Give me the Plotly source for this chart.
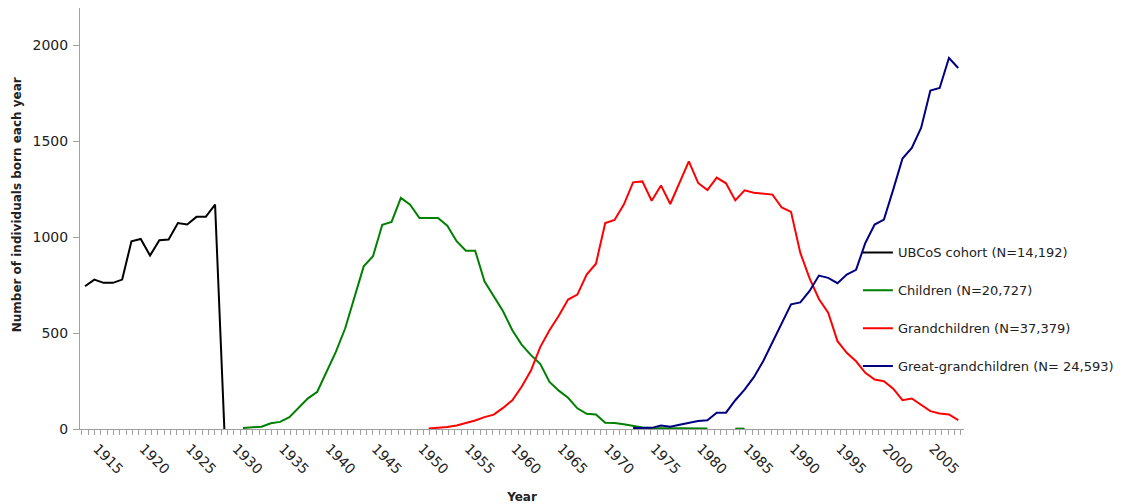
import plotly.graph_objects as go

# ---- data ----
cohort_years = list(range(1915, 1931))
cohort_vals = [744, 779, 762, 762, 779, 979, 991, 904, 984, 988, 1074, 1066, 1106, 1106, 1170, 0]

children_years = list(range(1932, 1987))
children_vals = [5, 8, 12, 30, 37, 62, 110, 160, 194, 296, 402, 524, 684, 848, 901, 1065, 1080,
                 1205, 1170, 1100, 1100, 1100, 1060, 979, 930, 930, 770, 690, 614, 515, 440, 385,
                 340, 245, 200, 163, 108, 79, 76, 32, 31, 25, 18, 8, 5, 5, 4, 3, 3, 2, 2,
                 None, None, 2, 2]

grand_years = list(range(1952, 2010))
grand_vals = [3, 6, 10, 18, 30, 44, 62, 75, 110, 150, 220, 305, 427, 515, 590, 675, 701, 805,
              862, 1074, 1090, 1170, 1286, 1291, 1190, 1270, 1173, 1284, 1395, 1283, 1246, 1311,
              1281, 1192, 1244, 1232, 1226, 1222, 1155, 1132, 918, 785, 678, 606, 458, 397, 353,
              293, 258, 249, 210, 150, 159, 125, 93, 81, 76, 46]

great_years = list(range(1974, 2010))
great_vals = [5, 5, 6, 18, 12, 22, 32, 42, 45, 85, 85, 150, 205, 270, 353, 454, 554, 650, 660,
              720, 800, 788, 760, 805, 830, 970, 1066, 1092, 1248, 1410, 1465, 1570, 1765, 1778,
              1934, 1882]

series_names = ["UBCoS cohort (N=14,192)", "Children (N=20,727)",
                "Grandchildren (N=37,379)", "Great-grandchildren (N= 24,593)"]
series_colors = ["#000000", "#008000", "#FF0000", "#000080"]

x_tick_labels = list(range(1915, 2010, 5))
y_tick_vals = [0, 500, 1000, 1500, 2000]

FONT = "DejaVu Sans"
LABEL_SHIFT = 1.3  # rotated labels sit slightly right of their year in the reference

fig = go.Figure()
data = [(cohort_years, cohort_vals), (children_years, children_vals),
        (grand_years, grand_vals), (great_years, great_vals)]
for i, ((xs, ys), name, col) in enumerate(zip(data, series_names, series_colors)):
    fig.add_trace(go.Scatter(
        x=xs, y=ys, mode="lines", name=name, legendgroup=f"g{i}",
        line=dict(color=col, width=2), connectgaps=False))

axis_gray = "#A0A0A0"
fig.update_layout(
    width=1129, height=504,
    margin=dict(l=72, r=173, t=0, b=82.5),
    paper_bgcolor="white", plot_bgcolor="white",
    font=dict(family=FONT, color="#222222"),
    showlegend=True,
    legend=dict(
        x=0.880, xanchor="left", y=0.455, yanchor="top",
        bgcolor="rgba(0,0,0,0)", borderwidth=0,
        font=dict(family=FONT, size=13, color="#222222"),
        tracegroupgap=18,
    ),
    xaxis=dict(
        range=[1914.46, 2009.62], automargin=False,
        tickmode="array", tickvals=[v + LABEL_SHIFT for v in x_tick_labels],
        ticktext=[str(v) for v in x_tick_labels],
        tickangle=45,
        ticks="outside", ticklen=5, tickcolor="rgba(0,0,0,0)",
        tickfont=dict(family=FONT, size=14, color="#222222"),
        showline=True, linecolor=axis_gray, linewidth=1,
        showgrid=False, zeroline=False,
        minor=dict(tick0=1915.355, dtick=0.6805, ticks="outside", ticklen=5,
                   tickcolor=axis_gray, showgrid=False),
        title=dict(text="<b>Year</b>", font=dict(family=FONT, size=12, color="#222222"),
                   standoff=16),
    ),
    yaxis=dict(
        range=[0, 2195], automargin=False,
        tickmode="array", tickvals=y_tick_vals,
        ticks="outside", ticklen=6, tickcolor=axis_gray, ticklabelstandoff=2,
        tickfont=dict(family=FONT, size=14, color="#222222"),
        showline=True, linecolor=axis_gray, linewidth=1,
        showgrid=False, zeroline=False,
    ),
    annotations=[dict(
        text="<b>Number of individuals born each year</b>",
        xref="paper", yref="paper", x=-0.0718, y=0.5326,
        xanchor="center", yanchor="middle", textangle=-90, showarrow=False,
        font=dict(family=FONT, size=12, color="#222222"),
    )],
)

fig.write_html("out.html")
